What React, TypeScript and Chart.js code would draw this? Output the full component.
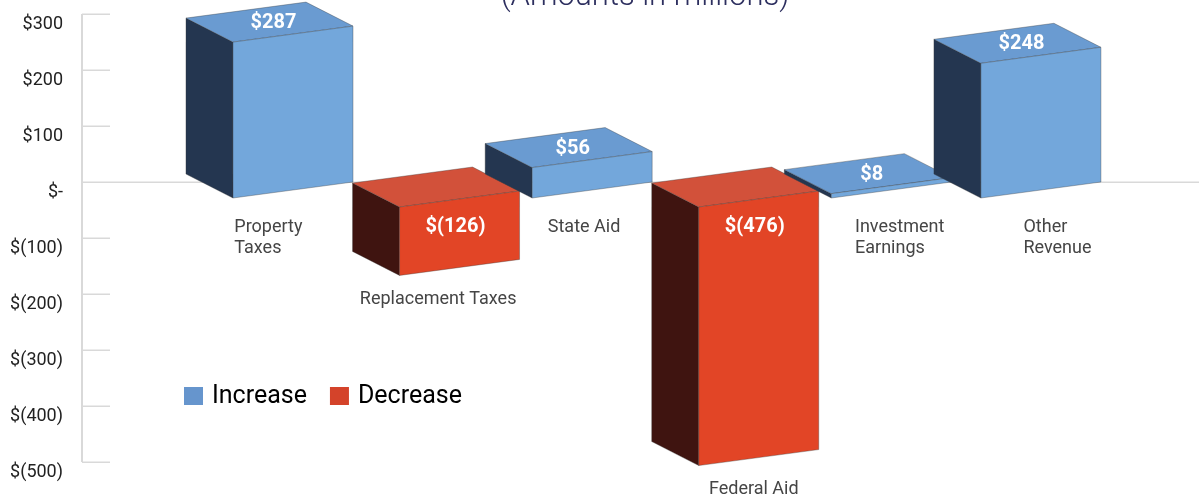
import { useEffect, useRef } from 'react';
import { Chart, registerables } from 'chart.js';

Chart.register(...registerables);

// ---------- data ----------
const CATEGORIES: string[][] = [
  ['Property', 'Taxes'],
  ['Replacement Taxes'],
  ['State Aid'],
  ['Federal Aid'],
  ['Investment', 'Earnings'],
  ['Other', 'Revenue'],
];
const INCREASE: (number | null)[] = [287, null, 56, null, 8, 248];
const DECREASE: (number | null)[] = [null, -126, null, -476, null, null];
const SERIES_NAMES = ['Increase', 'Decrease'];
const Y_MIN = -500;
const Y_MAX = 300;
const Y_STEP = 100;
const TITLE = '(Amounts in millions)';

// ---------- styles ----------
const FACES = [
  { front: '#73a7db', top: '#6a9bd1', side: '#243650', legend: '#6695cd' },
  { front: '#e24526', top: '#d2513a', side: '#3f1410', legend: '#d4432a' },
];
const BOX = { frontWidth: 120, depthX: -47, depthY: -24, slant: 16, negDrop: 9, heightScale: 0.97 };
const LABEL_SPREAD = { factor: 0.055, center: 740 };
const FONT = 'Roboto';
const GRID_COLOR = '#d9d9d9';

const fmtMoney = (v: number) => (v === 0 ? '$-' : v < 0 ? `$(${-v})` : `$${v}`);

const threeDPlugin = {
  id: 'threeD',
  beforeDatasetsDraw(chart: any) {
    const { ctx, chartArea } = chart;
    const y = chart.scales.y;
    const left = chartArea.left;
    ctx.save();
    // axis line
    ctx.strokeStyle = GRID_COLOR;
    ctx.lineWidth = 2;
    ctx.beginPath();
    ctx.moveTo(left, y.getPixelForValue(Y_MAX));
    ctx.lineTo(left, y.getPixelForValue(Y_MIN));
    ctx.stroke();
    // short tick lines + zero line
    ctx.lineWidth = 1.5;
    for (let v = Y_MIN; v <= Y_MAX; v += Y_STEP) {
      const py = Math.round(y.getPixelForValue(v)) + 0.25;
      ctx.beginPath();
      ctx.moveTo(left, py);
      ctx.lineTo(v === 0 ? chart.width : left + 28, py);
      ctx.stroke();
    }
    ctx.restore();

    // 3D boxes
    const items: any[] = [];
    chart.data.datasets.forEach((ds: any, di: number) => {
      const meta = chart.getDatasetMeta(di);
      meta.data.forEach((el: any, i: number) => {
        const v = ds.data[i].y;
        if (v === null || v === undefined) return;
        const p = el.getProps(['x', 'y', 'base'], true);
        items.push({ di, i, v, x: p.x, y: p.y, base: p.base });
      });
    });
    items.sort((a, b) => a.i - b.i);

    ctx.save();
    const dx = BOX.depthX, dy = BOX.depthY;
    for (const it of items) {
      const f = FACES[it.di];
      const fc = it.x - dx / 2;
      const L = fc - BOX.frontWidth / 2;
      const R = fc + BOX.frontWidth / 2;
      let topR: number, botR: number;
      if (it.v >= 0) {
        botR = it.base;
        topR = it.base - (it.base - it.y) * BOX.heightScale;
      } else {
        topR = it.base + BOX.negDrop;
        botR = topR + (it.y - it.base) * BOX.heightScale;
      }
      const topL = topR + BOX.slant;
      const botL = botR + BOX.slant;
      const poly = (pts: number[][], fill: string) => {
        ctx.beginPath();
        ctx.moveTo(pts[0][0], pts[0][1]);
        for (let k = 1; k < pts.length; k++) ctx.lineTo(pts[k][0], pts[k][1]);
        ctx.closePath();
        ctx.fillStyle = fill;
        ctx.fill();
        ctx.strokeStyle = 'rgba(60,60,60,0.45)';
        ctx.lineWidth = 0.8;
        ctx.stroke();
      };
      // side
      poly([[L + dx, topL + dy], [L, topL], [L, botL], [L + dx, botL + dy]], f.side);
      // top
      poly([[L + dx, topL + dy], [R + dx, topR + dy], [R, topR], [L, topL]], f.top);
      // front
      poly([[L, topL], [R, topR], [R, botR], [L, botL]], f.front);

      // value label
      ctx.fillStyle = '#ffffff';
      ctx.font = `bold 20px ${FONT}`;
      ctx.textAlign = 'center';
      ctx.textBaseline = 'middle';
      if (it.v >= 0) {
        ctx.fillText(fmtMoney(it.v), fc + dx / 2 + 4, (topL + topR) / 2 + dy / 2 + 1);
      } else {
        ctx.fillText(fmtMoney(it.v), fc - 4, (topL + topR) / 2 + 28);
      }

      // category label
      const lines = CATEGORIES[it.i];
      ctx.font = `18px ${FONT}`;
      ctx.fillStyle = '#454545';
      ctx.textAlign = 'left';
      ctx.textBaseline = 'alphabetic';
      const w = Math.max(...lines.map((s) => ctx.measureText(s).width));
      const cx = fc + LABEL_SPREAD.factor * (fc - LABEL_SPREAD.center) - (it.v < 0 ? 6 : 0);
      const baseY = it.v >= 0 ? it.base + 50 : botL + 28.5;
      lines.forEach((s, k) => ctx.fillText(s, cx - w / 2, baseY + k * 21));
    }
    ctx.restore();
    return false;
  },
  afterDraw(chart: any) {
    const { ctx, chartArea } = chart;
    ctx.save();
    // title (mostly above the visible canvas)
    ctx.font = `300 31px ${FONT}`;
    ctx.fillStyle = '#2d2f5f';
    ctx.textAlign = 'center';
    ctx.textBaseline = 'alphabetic';
    ctx.fillText(TITLE, 645, 5);

    // legend
    ctx.font = `25px ${FONT}`;
    ctx.textBaseline = 'middle';
    ctx.textAlign = 'left';
    let lx = chartArea.left + 102;
    const ly = 396;
    SERIES_NAMES.forEach((name, k) => {
      ctx.fillStyle = FACES[k].legend;
      ctx.fillRect(lx, ly - 9, 19, 18);
      ctx.fillStyle = '#000000';
      ctx.fillText(name, lx + 28, ly + 1);
      lx += 28 + ctx.measureText(name).width + 23;
    });
    ctx.restore();
  },
};

export default function App() {
  const ref = useRef<HTMLCanvasElement>(null);
  useEffect(() => {
    const toPoints = (arr: (number | null)[]) => arr.map((v, i) => ({ x: i, y: v }));
    const chart = new Chart(ref.current as HTMLCanvasElement, {
      type: 'bar',
      data: {
        datasets: [
          { label: SERIES_NAMES[0], data: toPoints(INCREASE) as any, backgroundColor: FACES[0].legend },
          { label: SERIES_NAMES[1], data: toPoints(DECREASE) as any, backgroundColor: FACES[1].legend },
        ],
      },
      options: {
        animation: false,
        responsive: true,
        maintainAspectRatio: false,
        layout: { padding: { top: 14, bottom: 34, left: 0, right: 0 } },
        datasets: { bar: { categoryPercentage: 0.227, barPercentage: 0.9 } } as any,
        plugins: { legend: { display: false }, tooltip: { enabled: false }, title: { display: false } },
        scales: {
          x: { type: 'linear', min: -1.31, max: 6.157, display: false, offset: false },
          y: {
            min: Y_MIN,
            max: Y_MAX,
            grid: { display: false, drawTicks: false },
            border: { display: false },
            ticks: {
              stepSize: Y_STEP,
              padding: 19,
              labelOffset: 10,
              color: '#222222',
              font: { family: FONT, size: 18 },
              callback: (v: any) => fmtMoney(Number(v)),
            },
            afterFit: (scale: any) => {
              scale.width = 82;
              scale.paddingTop = 0;
              scale.paddingBottom = 0;
            },
          },
        },
      },
      plugins: [threeDPlugin],
    });
    return () => chart.destroy();
  }, []);
  return (
    <div style={{ position: 'absolute', left: 0, top: 0, width: 1199, height: 496, background: '#fff' }}>
      <canvas ref={ref} />
    </div>
  );
}
